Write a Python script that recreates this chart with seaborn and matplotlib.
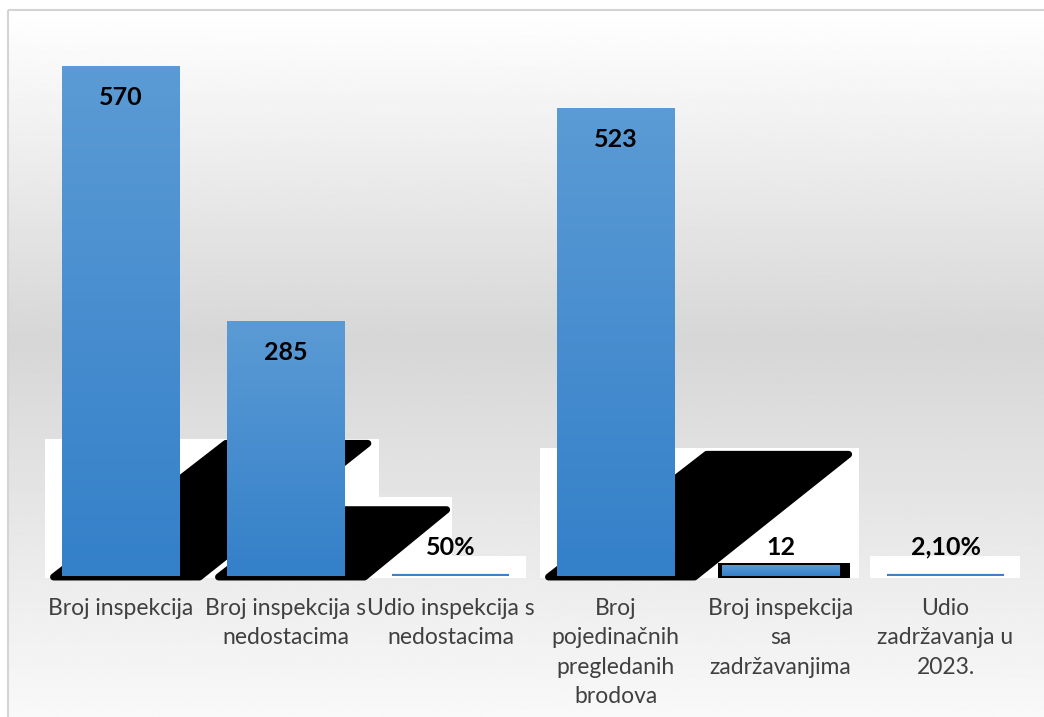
import numpy as np
import pandas as pd
import matplotlib
matplotlib.use("Agg")
import matplotlib.pyplot as plt
import seaborn as sns
from matplotlib.colors import LinearSegmentedColormap
from matplotlib.patches import Rectangle, Polygon

categories = ["Broj inspekcija", "Broj inspekcija s\nnedostacima", "Udio inspekcija s\nnedostacima",
              "Broj\npojedinačnih\npregledanih\nbrodova", "Broj inspekcija\nsa\nzadržavanjima",
              "Udio\nzadržavanja u\n2023."]
values = [570, 285, 0.5, 523, 12, 0.021]
value_labels = ["570", "285", "50%", "523", "12", "2,10%"]

sns.set_theme(style="white")
plt.rcParams["font.family"] = ["Lato", "DejaVu Sans"]

W, H = 1044, 717
fig = plt.figure(figsize=(W / 100, H / 100), dpi=100)

# grey gradient background + frame
bg = fig.add_axes([0, 0, 1, 1])
bg.set_xlim(0, W)
bg.set_ylim(H, 0)
bg.axis("off")
yy = np.linspace(10, H + 5, 400)
shade = np.interp(yy, [10, 340, 717], [1.0, 0.84, 0.975])
bg.imshow(shade[:, None], cmap="gray", vmin=0, vmax=1, extent=[8, W + 5, H + 5, 10], aspect="auto")
bg.add_patch(Rectangle((8, 10), W, H, fill=False, edgecolor="#d4d4d4", lw=1.5))
bg.set_xlim(0, W)
bg.set_ylim(H, 0)

# main axes
base_px = 576
ymax = 600
sy = 510 / 570  # px per unit
ax = fig.add_axes([38 / W, (H - base_px) / H, 990 / W, ymax * sy / H])
ax.patch.set_alpha(0)

df = pd.DataFrame({"cat": categories, "val": values})
bw = 0.715
blue = "#3a82c9"
sns.barplot(data=df, x="cat", y="val", ax=ax, color=blue, width=bw, saturation=1, linewidth=0)
ax.set_xlim(-0.5, 5.5)
ax.set_ylim(0, ymax)
sx = 990 / 6  # px per category

# shadow artefacts of the original rendering
for i, v in enumerate(values):
    hpx = v * sy
    xl, xr = i - bw / 2, i + bw / 2
    box_top = (0.23 * hpx + 20) / sy
    left = xl - 17 / sx
    right = xr + (16 + 0.36 * hpx) / sx
    ax.add_patch(Rectangle((left, -2 / sy), right - left, box_top + 2 / sy, facecolor="white",
                           edgecolor="none", zorder=1, clip_on=False))
    if hpx > 100:
        hb = 0.26 * hpx
        sh = 1.3 * hb
        pts = [(xl - 8 / sx, -1 / sy), (xr + 20 / sx, -1 / sy),
               (xr + (16 + sh) / sx, hb / sy), (xl + (sh - 8) / sx, hb / sy)]
        ax.add_patch(Polygon(pts, closed=True, facecolor="black", edgecolor="black", lw=5,
                             joinstyle="round", zorder=1.5, clip_on=False))
    elif hpx > 5:
        ax.add_patch(Rectangle((xl - 4 / sx, -2 / sy), bw + 15 / sx, v + 4 / sy, facecolor="black",
                               edgecolor="none", zorder=1.5, clip_on=False))

# gradient fill of bars
cmap = LinearSegmentedColormap.from_list("bar", ["#3480c9", "#5b9bd5"])
grad = np.linspace(1, 0, 100)[:, None]
for i, p in enumerate(ax.containers[0]):
    p.set_zorder(3)
    x0, w_, h_ = p.get_x(), p.get_width(), p.get_height()
    if h_ * sy > 5:
        im = ax.imshow(grad, cmap=cmap, vmin=0, vmax=1, aspect="auto",
                       extent=[x0, x0 + w_, 0, h_], zorder=3.1)
        im.set_clip_path(p)
    else:
        # too thin to see: draw as a 2 px line at its value
        ax.hlines(h_ + 1 / sy, x0, x0 + w_, color=blue, lw=1.6, zorder=4)
ax.set_xlim(-0.5, 5.5)
ax.set_ylim(0, ymax)

# value labels
for i, (v, lab) in enumerate(zip(values, value_labels)):
    ypos = v - 35 if v > 100 else 32
    ax.text(i, ypos, lab, ha="center", va="center", fontsize=18, fontweight="bold",
            color="black", zorder=5)

ax.set_xticks(range(len(categories)))
ax.set_xticklabels(categories, fontsize=16.5, color="#404040", linespacing=1.5)
ax.tick_params(axis="x", length=0, pad=15.5)
ax.set_yticks([])
ax.set_xlabel("")
ax.set_ylabel("")
sns.despine(ax=ax, left=True, bottom=True)

fig.savefig("out.png", dpi=100)
